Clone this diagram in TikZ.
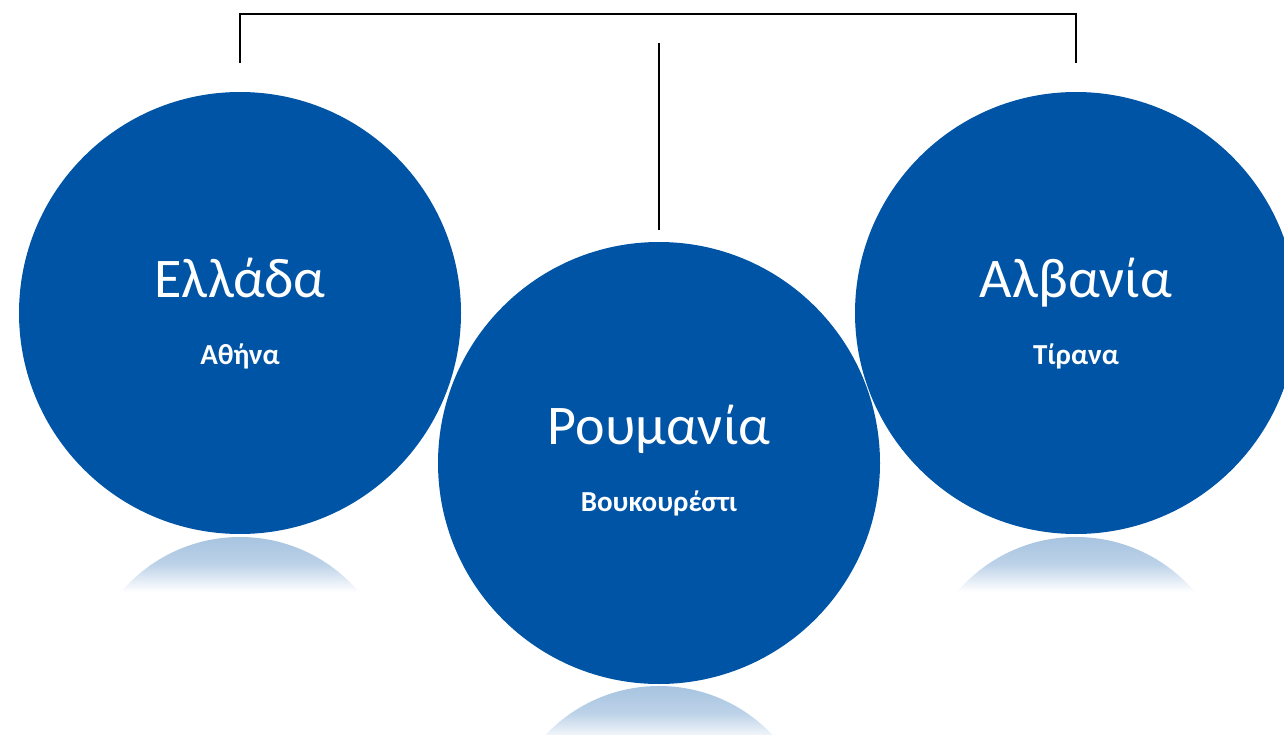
\documentclass[tikz,border=0pt]{standalone}
\usepackage{fontspec}
\setmainfont{Carlito}
\definecolor{ballblue}{RGB}{0,84,166}
\definecolor{reflblue}{RGB}{166,195,224}
\begin{document}
\begin{tikzpicture}[x=1pt,y=1pt,
  ball/.style={circle,fill=ballblue,minimum size=442pt,inner sep=0pt},
  bigtxt/.style={text=white,anchor=base,font=\fontsize{56}{62}\selectfont,inner sep=0pt},
  smalltxt/.style={text=white,anchor=base,font=\bfseries\fontsize{29}{32}\selectfont,inner sep=0pt},
  bracket/.style={draw=black,line width=2.4pt}]
\useasboundingbox (0,0) rectangle (1284,-735);
\clip (0,0) rectangle (1284,-735);
% reflections
\foreach \cx/\ty in {240/537, 1076/537, 659/686}{
  \begin{scope}
    \clip (\cx,-\ty-156) circle (156);
    \shade[top color=reflblue, bottom color=white, middle color=reflblue!75!white]
      (\cx-230,-\ty+1) rectangle (\cx+230,-\ty-55);
  \end{scope}
}
\node[ball] (gr) at (240,-313) {};
\node[ball] (al) at (1076,-313) {};
\node[ball] (ro) at (659,-463) {};
\node[bigtxt] (grname) at (240,-297) {Ελλάδα};
\node[smalltxt] (grcap) at (240,-364) {Αθήνα};
\node[bigtxt] (alname) at (1076,-297) {Αλβανία};
\node[smalltxt] (alcap) at (1076,-364) {Τίρανα};
\node[bigtxt] (roname) at (659,-444) {Ρουμανία};
\node[smalltxt] (rocap) at (659,-511) {Βουκουρέστι};
% bracket
\coordinate (bl) at (240,-63);
\coordinate (br) at (1076,-63);
\coordinate (tl) at (240,-14);
\coordinate (tr) at (1076,-14);
\coordinate (mt) at (659,-43);
\coordinate (mb) at (659,-230);
\draw[bracket] (bl) -- (tl) -- (tr) -- (br);
\draw[bracket] (mt) -- (mb);
\end{tikzpicture}
\end{document}
